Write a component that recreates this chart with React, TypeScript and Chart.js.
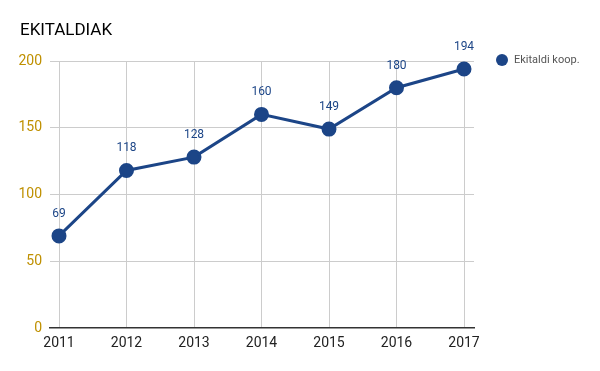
import React, { useEffect, useRef } from "react";
import { Chart, registerables } from "chart.js";

Chart.register(...registerables);

const years = [2011, 2012, 2013, 2014, 2015, 2016, 2017];
const values = [69, 118, 128, 160, 149, 180, 194];
const yTicks = [0, 50, 100, 150, 200];
const seriesName = "Ekitaldi koop.";
const title = "EKITALDIAK";

const BLUE = "#1c4587";

export default function App() {
  const ref = useRef<HTMLCanvasElement | null>(null);
  useEffect(() => {
    document.body.style.margin = "0";
    const canvas = ref.current!;
    const overlay = {
      id: "overlay",
      afterDatasetsDraw(chart: any) {
        const ctx = chart.ctx;
        const meta = chart.getDatasetMeta(0);
        ctx.save();
        ctx.fillStyle = BLUE;
        ctx.font = "12px Roboto";
        ctx.textAlign = "center";
        ctx.textBaseline = "middle";
        meta.data.forEach((p: any, i: number) => {
          ctx.fillText(String(values[i]), p.x, p.y - 22);
        });
        // title
        ctx.fillStyle = "#000";
        ctx.font = "17px Roboto";
        ctx.textAlign = "left";
        ctx.fillText(title, 20, 31);
        // legend
        ctx.beginPath();
        ctx.arc(502, 60, 6, 0, Math.PI * 2);
        ctx.fillStyle = BLUE;
        ctx.fill();
        ctx.fillStyle = "#555";
        ctx.font = "11px Roboto";
        ctx.fillText(seriesName, 514, 60);
        ctx.restore();
      },
    };
    const chart = new Chart(canvas, {
      type: "line",
      data: {
        datasets: [
          {
            label: seriesName,
            data: years.map((y, i) => ({ x: y, y: values[i] })),
            borderColor: BLUE,
            backgroundColor: BLUE,
            borderWidth: 3,
            pointRadius: 6,
            pointHoverRadius: 6,
            pointBackgroundColor: BLUE,
            pointBorderColor: BLUE,
            tension: 0,
          },
        ],
      },
      options: {
        responsive: false,
        animation: false,
        layout: { padding: { top: 61, right: 126, left: 0, bottom: 0 } },
        plugins: { legend: { display: false }, title: { display: false }, tooltip: { enabled: false } },
        scales: {
          x: {
            type: "linear",
            min: 2011 - 9 / 67.5,
            max: 2017 + 10 / 67.5,
            afterBuildTicks: (s: any) => {
              s.ticks = years.map((v) => ({ value: v }));
            },
            afterFit: (s: any) => {
              s.height = 43;
            },
            ticks: {
              color: "#222",
              font: { family: "Roboto", size: 14 },
              padding: 7,
              callback: (v: any) => String(v),
            },
            grid: { color: "#cccccc", drawTicks: false, lineWidth: 1 },
            border: { display: true, color: "#333", width: 1.5 },
          },
          y: {
            min: 0,
            max: 200,
            afterBuildTicks: (s: any) => {
              s.ticks = yTicks.map((v) => ({ value: v }));
            },
            afterFit: (s: any) => {
              s.width = 50;
            },
            ticks: {
              color: "#bf9000",
              font: { family: "Roboto", size: 14 },
              padding: 8,
            },
            grid: { color: (c: any) => (c.tick && c.tick.value === 0 ? "rgba(0,0,0,0)" : "#cccccc"), drawTicks: false },
            border: { display: false },
          },
        },
      },
      plugins: [overlay],
    });
    return () => chart.destroy();
  }, []);
  return (
    <div style={{ width: 600, height: 371 }}>
      <canvas ref={ref} width={600} height={371} style={{ width: 600, height: 371, display: "block" }} />
    </div>
  );
}
